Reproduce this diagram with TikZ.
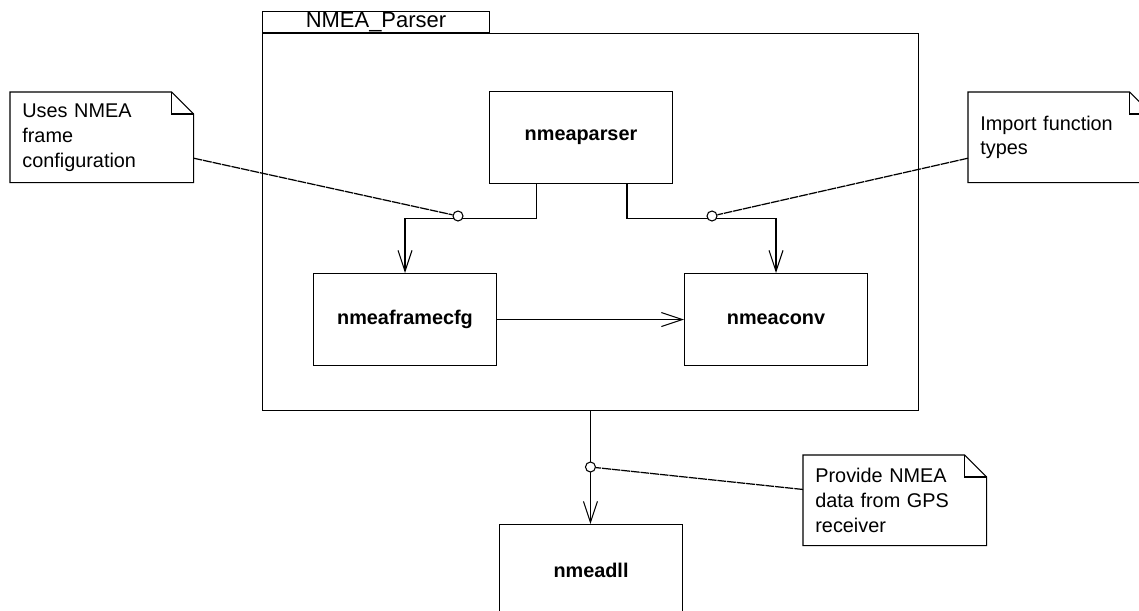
\documentclass[tikz,border=0pt]{standalone}
\usepackage{fontspec}
\setmainfont{Liberation Sans}
\usetikzlibrary{positioning,calc,arrows.meta}

\begin{document}
\begin{tikzpicture}[x=0.02cm, y=-0.02cm,
		comp/.style={rectangle, draw, anchor=north west, minimum width=3.66cm, minimum height=1.84cm,
			font=\fontsize{11.3}{13}\selectfont\bfseries, line width=0.6pt},
		pkg/.style={rectangle, draw, anchor=north west, line width=0.6pt},
		note/.style={rectangle, draw=none, anchor=north west, text width=3.18cm, inner xsep=0.24cm,
			minimum height=1.8cm, align=left, font=\fontsize{11.3}{14.2}\selectfont},
		ball/.style={circle, draw, fill=white, minimum size=0.2cm, inner sep=0pt, line width=0.6pt},
		dep/.style={-{Straight Barb[length=0.42cm, width=0.28cm]}, line width=0.6pt},
		link/.style={line width=0.7pt, dash pattern=on 5pt off 0.5pt},
		noteline/.style={line width=0.6pt}
]
\useasboundingbox (0,0) rectangle (1139,610);

% package frame
\node [pkg, minimum width=13.12cm, minimum height=7.54cm] (frame) at (262,33) {};
\node [pkg, anchor=south west, minimum width=4.54cm, minimum height=0.42cm, inner sep=0pt,
	font=\fontsize{12.5}{14}\selectfont] (tab) at (frame.north west) {NMEA\_Parser};

% components
\node [comp] (parser) at (489,91) {nmeaparser};
\node [comp] (cfg) at (313,273) {nmeaframecfg};
\node [comp] (conv) at (684,273) {nmeaconv};
\node [comp] (dll) at (499,524) {nmeadll};

\coordinate (lp) at ($(parser.south west)!0.26!(parser.south east)$);
\coordinate (rp) at ($(parser.south west)!0.75!(parser.south east)$);

\draw [dep] (lp) -- ++(0,34) -| (cfg.north);
\draw [dep] (rp) -- ++(0,34) -| (conv.north);
\draw [dep] (cfg) -- (conv);
\draw [dep] (frame.south) -- (frame.south |- dll.north);

\node [ball] (b1) at (458,216) {};
\node [ball] (b2) at (712,216) {};
\node [ball] (b3) at (frame.south |- 0,467) {};

% notes
\node [note] (usesnote) at (10,92) {Uses NMEA\\frame\\configuration};
\node [note] (importnote) at (968,92) {Import function\\types};
\node [note] (providenote) at (803,455) {Provide NMEA\\data from GPS\\receiver};

\foreach \n in {usesnote,importnote,providenote} {
	\draw [noteline] (\n.south west) |- ([xshift=-0.44cm]\n.north east)
		-- ([yshift=-0.44cm]\n.north east) |- cycle;
	\draw [noteline] ([xshift=-0.44cm]\n.north east) |- ([yshift=-0.44cm]\n.north east);
}

\draw [link] ($(usesnote.south east)!0.27!(usesnote.north east)$) -- (b1);
\draw [link] ($(importnote.south west)!0.27!(importnote.north west)$) -- (b2);
\draw [link] ($(providenote.south west)!0.62!(providenote.north west)$) -- (b3);

\end{tikzpicture}
\end{document}
